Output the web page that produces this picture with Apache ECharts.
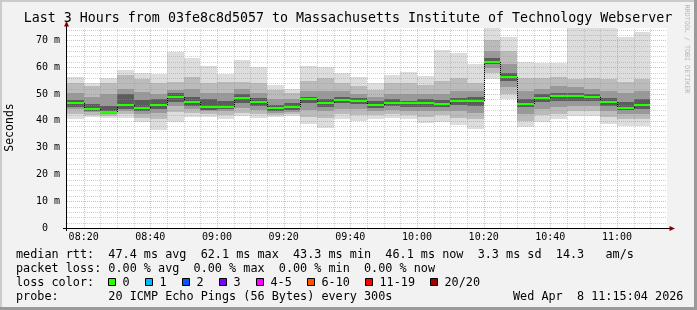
<!DOCTYPE html>
<html><head><meta charset="utf-8">
<script src="https://cdn.jsdelivr.net/npm/echarts@6/dist/echarts.min.js"></script>
<style>html,body{margin:0;padding:0;background:#f2f2f2;}#c{width:697px;height:310px;}</style>
</head><body><div id="c"></div>
<script>
// ---- data (ms) : one 5-minute step per entry ----
const barTimes = ['08:15','08:20','08:25','08:30','08:35','08:40','08:45','08:50','08:55','09:00','09:05','09:10','09:15','09:20','09:25','09:30','09:35','09:40','09:45','09:50','09:55','10:00','10:05','10:10','10:15','10:20','10:25','10:30','10:35','10:40','10:45','10:50','10:55','11:00','11:05'];
const rttMin   = [40.7,41.4,41.0,41.2,39.4,36.7,39.7,41.3,41.3,40.8,41.8,41.2,41.5,41.8,38.7,37.4,40.8,39.8,40.5,41.1,40.5,39.3,39.7,38.6,36.9,55.7,48.3,37.6,39.5,40.5,41.6,41.8,38.9,38.1,38.1];
const rttP10Lo = [42.7,42.3,41.8,42.5,41.0,40.8,43.3,43.0,42.5,42.0,43.0,42.5,42.2,42.5,41.5,41.0,42.5,42.0,42.0,42.5,42.0,41.5,42.0,41.0,40.5,58.0,50.0,40.0,42.0,42.5,43.5,43.5,41.5,40.5,40.5];
const rttP25Lo = [44.5,43.3,42.5,43.5,42.5,42.8,45.5,44.5,43.5,43.5,44.8,44.0,43.0,43.3,44.0,43.5,44.5,44.5,43.5,44.0,43.5,43.5,43.8,43.5,43.0,59.5,52.5,42.5,44.5,45.0,45.5,45.5,43.5,42.5,42.5];
const rttP40Lo = [45.3,43.8,42.9,44.5,43.8,44.5,47.0,45.5,44.2,44.3,46.5,45.5,43.8,44.2,46.5,45.3,46.5,46.2,44.8,45.5,45.3,45.3,45.3,46.0,45.5,61.0,55.0,45.0,47.0,47.5,47.5,47.5,45.5,44.0,44.5];
const rttMedian= [46.5,44.5,43.4,46.0,44.9,45.7,49.0,47.1,45.3,45.2,48.5,47.0,44.8,45.2,48.1,46.7,47.7,47.4,46.0,46.7,46.5,46.7,46.4,47.4,47.4,62.0,56.3,46.4,48.6,49.3,49.3,48.9,47.1,44.9,46.0];
const rttP40Hi = [47.8,46.4,45.5,50.0,47.6,48.0,50.3,49.0,48.0,47.5,50.0,48.5,46.0,46.5,49.0,48.0,49.0,48.5,47.2,48.0,47.5,48.0,47.8,48.5,49.0,63.5,58.0,48.0,50.0,50.5,50.5,50.0,48.5,47.0,48.0];
const rttP25Hi = [50.5,49.0,50.0,52.0,50.7,50.0,51.4,52.0,50.5,50.5,52.0,50.5,48.0,48.0,51.0,51.0,51.0,50.0,49.0,50.0,50.0,50.0,50.0,51.0,51.0,66.0,61.0,51.0,52.0,53.0,52.5,52.0,51.0,50.5,51.0];
const rttP10Hi = [54.2,53.0,54.0,57.0,55.7,54.0,54.5,56.3,54.0,54.5,54.5,54.0,51.5,50.5,55.0,56.0,54.0,53.0,51.5,54.0,54.0,53.5,55.0,56.0,54.0,70.0,66.0,55.8,56.0,56.5,55.5,56.0,55.5,54.5,55.5];
const rttMax   = [56.4,54.2,56.1,59.0,57.9,57.3,65.8,63.5,60.5,57.6,62.5,60.1,53.3,51.9,60.3,59.9,57.7,56.3,53.9,57.0,58.2,56.7,66.3,65.4,61.3,75.0,71.3,62.0,61.7,61.4,75.0,75.0,75.0,71.2,73.0];

const xTickLabels = ['08:20','08:40','09:00','09:20','09:40','10:00','10:20','10:40','11:00'];
const yTickLabels = ['0  ','10 m','20 m','30 m','40 m','50 m','60 m','70 m'];

const rttStats = ['47.4','62.1','43.3','46.1','3.3','14.3']; // avg max min now sd am/s
const lossStats = ['0.00','0.00','0.00','0.00'];
const lossLabels = ['0','1','2','3','4-5','6-10','11-19','20/20'];
const lossColors = ['#26ff00','#00b8ff','#0059ff','#7e00ff','#ff00ff','#ff5500','#ff0000','#a00000'];
const titleText = 'Last 3 Hours from 03fe8c8d5057 to Massachusetts Institute of Technology Webserver';
const probeText = '20 ICMP Echo Pings (56 Bytes) every 300s';
const dateText = 'Wed Apr  8 11:15:04 2026';

// ---- helpers ----
const toMin = s => { const [h,m] = s.split(':').map(Number); return h*60+m; };
const STEP = 5;
const X_MIN = 495, X_MAX = 675, Y_MAX = 74.6;
const labelMapX = {}; xTickLabels.forEach(s => labelMapX[toMin(s)] = s);

const smokeData = barTimes.map((t,i) => [toMin(t), toMin(t)+STEP, rttMin[i], rttP10Lo[i], rttP25Lo[i], rttP40Lo[i], rttMedian[i], rttP40Hi[i], rttP25Hi[i], rttP10Hi[i], rttMax[i]]);

// grid lines (layout only)
const gridLines = [];
for (let v = 500; v <= 675; v += 5) gridLines.push([v, v % 20 === 0 ? 1 : 0, 0]);
for (let v = 2; v <= 74; v += 2) gridLines.push([v, v % 10 === 0 ? 1 : 0, 1]);

const FONT = '"DejaVu Sans Mono", monospace';
const chart = echarts.init(document.getElementById('c'), null, {renderer:'canvas'});

const layerColors = ['#dddddd','#bbbbbb','#999999','#5c5c5c'];

function renderSmoke(params, api) {
  const t0 = api.value(0), t1 = api.value(1);
  const pairs = [[2,10],[3,9],[4,8],[5,7]];
  const children = pairs.map(([lo,hi],k) => {
    const a = api.coord([t0, api.value(hi)]);
    const b = api.coord([t1, api.value(lo)]);
    const x0 = Math.round(a[0]), x1 = Math.round(b[0]);
    const y0 = Math.round(a[1]), y1 = Math.round(b[1]);
    return {type:'rect', shape:{x:x0, y:y0, width:x1-x0, height:y1-y0}, style:{fill:layerColors[k]}};
  });
  return {type:'group', children};
}

function renderMedian(params, api) {
  const i = params.dataIndex;
  const t0 = api.value(0), t1 = api.value(1), m = api.value(6);
  const a = api.coord([t0, m]), b = api.coord([t1, m]);
  const x0 = Math.round(a[0]), x1 = Math.round(b[0]), y = Math.round(a[1]);
  const children = [];
  if (i > 0) {
    const py = Math.round(api.coord([t0, rttMedian[i-1]])[1]);
    children.push({type:'line', shape:{x1:x0+0.5, y1:py, x2:x0+0.5, y2:y}, style:{stroke:'#000', lineWidth:1, lineDash:[1,1]}});
  }
  children.push({type:'rect', shape:{x:x0, y:y-1, width:x1-x0, height:2}, style:{fill:lossColors[0]}});
  return {type:'group', children};
}

function renderGrid(params, api) {
  const v = api.value(0), major = api.value(1), horiz = api.value(2);
  const stroke = major ? 'rgba(255,90,90,0.5)' : 'rgba(150,150,150,0.45)';
  let shape;
  if (horiz) {
    const a = api.coord([X_MIN, v]), b = api.coord([X_MAX, v]);
    const y = Math.round(a[1]) + 0.5;
    shape = {x1:a[0], y1:y, x2:b[0], y2:y};
  } else {
    const a = api.coord([v, 0]), b = api.coord([v, Y_MAX]);
    const x = Math.round(a[0]) + 0.5;
    shape = {x1:x, y1:a[1], x2:x, y2:b[1]};
  }
  return {type:'line', shape, style:{stroke, lineWidth:1, lineDash:[1,1]}};
}

const L = 16;
const line1 = 'median rtt:  ' + rttStats[0] + ' ms avg  ' + rttStats[1] + ' ms max  ' + rttStats[2] + ' ms min  ' + rttStats[3] + ' ms now  ' + rttStats[4] + ' ms sd  ' + rttStats[5] + '   am/s';
const line2 = 'packet loss: ' + lossStats[0] + ' % avg  ' + lossStats[1] + ' % max  ' + lossStats[2] + ' % min  ' + lossStats[3] + ' % now';
const lossBoxX = [108, 145, 182, 219, 256, 307, 365, 430];

const txt = (text, x, y, size, extra) => Object.assign({type:'text', x, y, silent:true,
  style:{text, fill:'#000', fontSize:size, fontFamily:FONT, align:'left', verticalAlign:'middle'}}, extra || {});

const graphics = [
  {type:'rect', shape:{x:0,y:0,width:697,height:2}, style:{fill:'#cbcbcb'}},
  {type:'rect', shape:{x:0,y:0,width:2,height:310}, style:{fill:'#cbcbcb'}},
  {type:'rect', shape:{x:0,y:307,width:697,height:3}, style:{fill:'#9a9a9a'}},
  {type:'rect', shape:{x:694,y:0,width:3,height:310}, style:{fill:'#9a9a9a'}},
  // axes
  {type:'line', shape:{x1:66.5,y1:231,x2:66.5,y2:26}, style:{stroke:'#000',lineWidth:1}, z:50},
  {type:'polygon', shape:{points:[[64,26.5],[69,26.5],[66.5,21]]}, style:{fill:'#800000'}, z:50},
  {type:'line', shape:{x1:63,y1:228.5,x2:670,y2:228.5}, style:{stroke:'#000',lineWidth:1}, z:50},
  {type:'polygon', shape:{points:[[669.5,226],[669.5,231],[675,228.5]]}, style:{fill:'#800000'}, z:50},
  txt(titleText, 348, 19, 13.3, {}),
  txt('Seconds', 10.5, 127.5, 11.5, {rotation:Math.PI/2}),
  txt('RRDTOOL / TOBI OETIKER', 687, 49, 6.7, {rotation:-Math.PI/2}),
  txt(line1, L, 254.5, 11.8),
  txt(line2, L, 268.5, 11.8),
  txt('loss color:', L, 282.5, 11.8),
  txt('probe:       ' + probeText, L, 296.5, 11.8),
  txt(dateText, 513, 296.5, 11.8)
];
graphics[8].style.align = 'center';
graphics[9].style.align = 'center';
graphics[10].style.align = 'center';
graphics[10].style.fill = '#b4b4b4';
lossLabels.forEach((lab, k) => {
  graphics.push({type:'rect', shape:{x:lossBoxX[k]+0.5, y:278.5, width:7, height:7}, style:{fill:lossColors[k], stroke:'#000', lineWidth:1}});
  graphics.push(txt(lab, lossBoxX[k]+14.5, 282.5, 11.8));
});

chart.setOption({
  backgroundColor:'#f2f2f2',
  animation:false,
  grid:{left:67, top:28, width:600, height:200, show:true, backgroundColor:'#ffffff', borderWidth:0},
  xAxis:{type:'value', min:X_MIN, max:X_MAX, interval:STEP,
    axisLine:{show:false}, axisTick:{show:false}, splitLine:{show:false},
    axisLabel:{formatter:v => labelMapX[v] || '', fontFamily:FONT, fontSize:10, color:'#000', margin:4}},
  yAxis:{type:'value', min:0, max:Y_MAX, interval:10,
    axisLine:{show:false}, axisTick:{show:false}, splitLine:{show:false},
    axisLabel:{formatter:v => (v % 10 === 0 && yTickLabels[v/10]) ? yTickLabels[v/10] : '', fontFamily:FONT, fontSize:10, color:'#000', margin:7}},
  series:[
    {type:'custom', name:'smoke', renderItem:renderSmoke, data:smokeData, clip:true, z:2, silent:true},
    {type:'custom', name:'grid', renderItem:renderGrid, data:gridLines, clip:true, z:3, silent:true},
    {type:'custom', name:'median', renderItem:renderMedian, data:smokeData, clip:true, z:4, silent:true}
  ],
  graphic:graphics
});
</script></body></html>
